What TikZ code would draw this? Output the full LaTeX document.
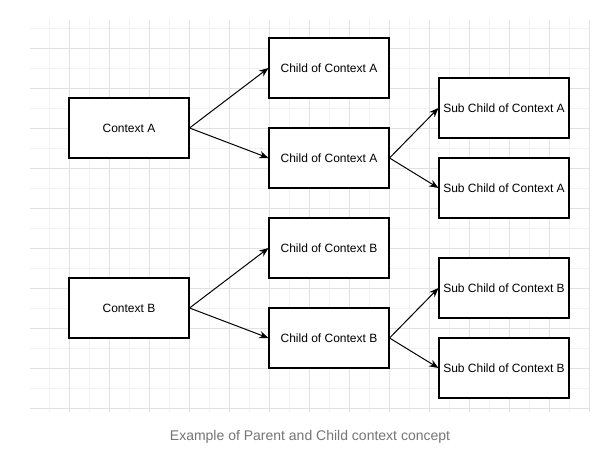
\documentclass[tikz,border=0pt]{standalone}
\usepackage{fontspec}
\setmainfont{Liberation Sans}
\usetikzlibrary{arrows.meta}
\definecolor{gridmajor}{HTML}{E2E2E2}
\definecolor{gridminor}{HTML}{F2F2F2}
\definecolor{captiongray}{HTML}{757575}
\tikzset{
  box/.style={draw=black, line width=0.8pt, fill=white, minimum width=90pt, minimum height=45pt, inner sep=0pt, font=\fontsize{9}{11}\selectfont},
  subbox/.style={box, minimum width=97.5pt},
  conn/.style={line width=0.75pt, -{Stealth[length=7pt,width=5.5pt]}},
}
\begin{document}
\begin{tikzpicture}[x=0.75pt,y=-0.75pt]
\useasboundingbox (0,0) rectangle (610,457);
\fill[white] (0,0) rectangle (610,457);
% grid
\begin{scope}
\clip (30,20) rectangle (590,412);
\foreach \x in {29,49,...,589} \draw[gridminor, line width=0.75pt] (\x,20) -- (\x,412);
\foreach \y in {28,48,...,408} \draw[gridminor, line width=0.75pt] (30,\y) -- (590,\y);
\foreach \x in {69,109,...,589} \draw[gridmajor, line width=0.75pt] (\x,20) -- (\x,412);
\foreach \y in {48,88,...,408} \draw[gridmajor, line width=0.75pt] (30,\y) -- (590,\y);
\end{scope}
% nodes
\node[box] (ctxA) at (129,128) {Context A};
\node[box] (cA1) at (329,68) {Child of Context A};
\node[box] (cA2) at (329,158) {Child of Context A};
\node[subbox] (sA1) at (504,108) {Sub Child of Context A};
\node[subbox] (sA2) at (504,188) {Sub Child of Context A};
\node[box] (ctxB) at (129,308) {Context B};
\node[box] (cB1) at (329,248) {Child of Context B};
\node[box] (cB2) at (329,338) {Child of Context B};
\node[subbox] (sB1) at (504,288) {Sub Child of Context B};
\node[subbox] (sB2) at (504,368) {Sub Child of Context B};
% connectors
\draw[conn] (ctxA.east) -- (cA1.west);
\draw[conn] (ctxA.east) -- (cA2.west);
\draw[conn] (cA2.east) -- (sA1.west);
\draw[conn] (cA2.east) -- (sA2.west);
\draw[conn] (ctxB.east) -- (cB1.west);
\draw[conn] (ctxB.east) -- (cB2.west);
\draw[conn] (cB2.east) -- (sB1.west);
\draw[conn] (cB2.east) -- (sB2.west);
% caption
\node[text=captiongray, font=\fontsize{10.5}{12}\selectfont, inner sep=0pt] (cap) at (310,437) {Example of Parent and Child context concept};
\end{tikzpicture}
\end{document}
